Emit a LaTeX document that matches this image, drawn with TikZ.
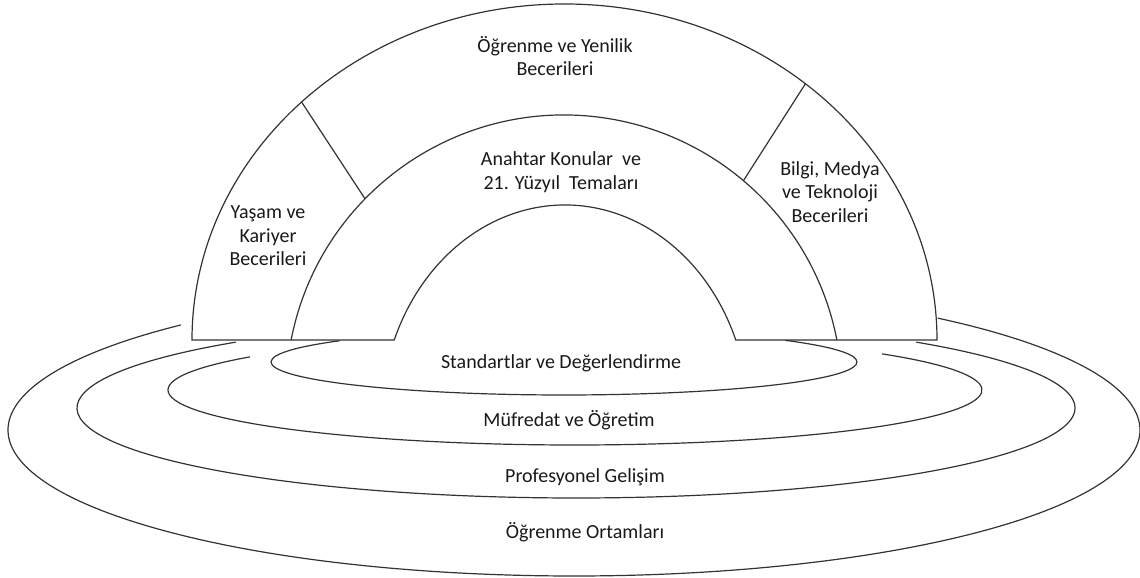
\documentclass[tikz,border=0pt]{standalone}
\usepackage{fontspec}
\setmainfont{Carlito}
\usetikzlibrary{calc}
\begin{document}
\begin{tikzpicture}[x=1pt,y=1pt,
  edge/.style={line width=1.2pt, draw=black!80},
  lbl/.style={align=center, font=\fontsize{20}{23.5}\selectfont, text=black!90, inner sep=0pt}]
\useasboundingbox (0,0) rectangle (1140,578);
% centres
\coordinate (oc) at (564.5,238);   % outer arch
\coordinate (mc) at (564,185);     % middle arch (circle)
\coordinate (ic) at (565,158);     % inner arch
\coordinate (e1) at (564,216);
\coordinate (e2) at (575,188);
\coordinate (e3) at (576,170);
\coordinate (e4) at (574,148);
% ellipse rings (partly hidden behind the arch)
\draw[edge] (e4) ++(134:566pt and 146pt) arc[start angle=134, end angle=410, x radius=566pt, y radius=146pt];
\draw[edge] (e3) ++(133:499pt and 90pt) arc[start angle=133, end angle=407, x radius=499pt, y radius=90pt];
\draw[edge] (e2) ++(143:407pt and 55pt) arc[start angle=143, end angle=401, x radius=407pt, y radius=55pt];
\draw[edge] (e1) ++(140:293pt and 33pt) arc[start angle=140, end angle=401, x radius=293pt, y radius=33pt];
% arch
\draw[edge, fill=white] (oc) ++(180:372.5pt and 336pt) coordinate (oa)
  arc[start angle=180, end angle=0, x radius=372.5pt, y radius=336pt] coordinate (ob)
  -- ($(ic)+(21.85:184pt and 215pt)$) coordinate (ib)
  arc[start angle=21.85, end angle=158.15, x radius=184pt, y radius=215pt] coordinate (ia)
  -- cycle;
\draw[edge] (mc) ++(169:278pt) arc[start angle=169, end angle=11, radius=278pt];
% dividers
\path (oc) ++(134.9:372.5pt and 336pt) coordinate (oL);
\path (oc) ++(49.7:372.5pt and 336pt) coordinate (oR);
\path (mc) ++(135.7:278pt) coordinate (mL);
\path (mc) ++(49.8:278pt) coordinate (mR);
\draw[edge] (oL) -- (mL);
\draw[edge] (oR) -- (mR);
% labels
\node[lbl] (learn) at (555,522) {Öğrenme ve Yenilik\\Becerileri};
\node[lbl] (key) at (561,406) {Anahtar Konular\ \ ve\\21. Yüzyıl\ \ Temaları};
\node[lbl] (life) at (268,342) {Yaşam ve\\Kariyer\\Becerileri};
\node[lbl] (info) at (830,386) {Bilgi, Medya\\ve Teknoloji\\Becerileri};
\node[lbl] (std) at (561,215) {Standartlar ve Değerlendirme};
\node[lbl] (cur) at (569,158) {Müfredat ve Öğretim};
\node[lbl] (prof) at (585,101) {Profesyonel Gelişim};
\node[lbl] (env) at (585,46) {Öğrenme Ortamları};
\end{tikzpicture}
\end{document}
